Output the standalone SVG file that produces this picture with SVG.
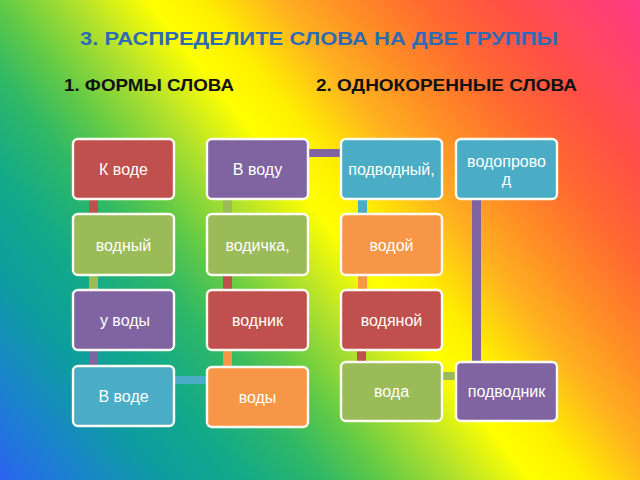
<svg xmlns="http://www.w3.org/2000/svg" width="640" height="480" viewBox="0 0 640 480">
<defs>
<linearGradient id="bg" gradientUnits="userSpaceOnUse" x1="0" y1="480" x2="624.4" y2="-19.5">
<stop offset="0" stop-color="#2a64f0"/>
<stop offset="0.08" stop-color="#1a84cc"/>
<stop offset="0.16" stop-color="#0d9ca0"/>
<stop offset="0.24" stop-color="#12aa88"/>
<stop offset="0.316" stop-color="#30b866"/>
<stop offset="0.375" stop-color="#62ca46"/>
<stop offset="0.45" stop-color="#b4e22c"/>
<stop offset="0.52" stop-color="#ffff00"/>
<stop offset="0.57" stop-color="#fff000"/>
<stop offset="0.648" stop-color="#ffb020"/>
<stop offset="0.707" stop-color="#ff9025"/>
<stop offset="0.785" stop-color="#ff6a30"/>
<stop offset="0.863" stop-color="#ff5046"/>
<stop offset="1" stop-color="#ff3a86"/>
</linearGradient>
<style>
.box{stroke:#fbfbf3;stroke-width:2.4}
.red{fill:#c0504d}.olive{fill:#9bbb59}.purple{fill:#8064a2}.teal{fill:#4bacc6}.orange{fill:#f79646}
.lbl{font-family:"Liberation Sans",Arial,sans-serif;font-size:16px;fill:#ffffff;text-anchor:middle}
.title{font-family:"Liberation Sans",Arial,sans-serif;font-weight:bold;font-size:19px;fill:#2f6bb3}
.sub{font-family:"Liberation Sans",Arial,sans-serif;font-weight:bold;font-size:17px;fill:#111111}
</style>
</defs>
<rect x="0" y="0" width="640" height="480" fill="url(#bg)"/>
<text class="title" x="80" y="45" textLength="478" lengthAdjust="spacingAndGlyphs">3. РАСПРЕДЕЛИТЕ СЛОВА НА ДВЕ ГРУППЫ</text>
<text class="sub" x="64" y="91" textLength="170" lengthAdjust="spacingAndGlyphs">1. ФОРМЫ СЛОВА</text>
<text class="sub" x="316" y="91" textLength="261" lengthAdjust="spacingAndGlyphs">2. ОДНОКОРЕННЫЕ СЛОВА</text>
<g id="connectors">
<rect class="red" x="89" y="199" width="9" height="15"/>
<rect class="olive" x="89" y="275" width="9" height="15"/>
<rect class="purple" x="89" y="350" width="9" height="16"/>
<rect class="teal" x="174" y="376" width="33" height="8"/>
<rect class="orange" x="223" y="350" width="9" height="17"/>
<rect class="red" x="223" y="275" width="9" height="15"/>
<rect class="olive" x="223" y="199" width="9" height="15"/>
<rect class="purple" x="308" y="149" width="33" height="8"/>
<rect class="teal" x="358" y="199" width="9" height="15"/>
<rect class="orange" x="358" y="275" width="9" height="15"/>
<rect class="red" x="357" y="350" width="9" height="12"/>
<rect class="olive" x="442" y="372" width="14" height="8"/>
<rect class="purple" x="472" y="199" width="9" height="163"/>
</g>
<g id="n1"><rect class="box red" x="73" y="139" width="101" height="60" rx="5"/><text class="lbl" x="123.5" y="175">К воде</text></g>
<g id="n2"><rect class="box olive" x="73" y="214" width="101" height="61" rx="5"/><text class="lbl" x="123.5" y="251">водный</text></g>
<g id="n3"><rect class="box purple" x="73" y="290" width="101" height="60" rx="5"/><text class="lbl" x="125" y="326">у воды</text></g>
<g id="n4"><rect class="box teal" x="73" y="366" width="101" height="60" rx="5"/><text class="lbl" x="123.5" y="402">В воде</text></g>
<g id="n5"><rect class="box purple" x="207" y="139" width="101" height="60" rx="5"/><text class="lbl" x="257.5" y="175">В воду</text></g>
<g id="n6"><rect class="box olive" x="207" y="214" width="101" height="61" rx="5"/><text class="lbl" x="257.5" y="251">водичка,</text></g>
<g id="n7"><rect class="box red" x="207" y="290" width="101" height="60" rx="5"/><text class="lbl" x="257.5" y="326">водник</text></g>
<g id="n8"><rect class="box orange" x="207" y="367" width="101" height="60" rx="5"/><text class="lbl" x="257.5" y="403">воды</text></g>
<g id="n9"><rect class="box teal" x="341" y="139" width="101" height="60" rx="5"/><text class="lbl" x="391.5" y="175">подводный,</text></g>
<g id="n10"><rect class="box orange" x="341" y="214" width="101" height="61" rx="5"/><text class="lbl" x="391.5" y="251">водой</text></g>
<g id="n11"><rect class="box red" x="341" y="290" width="101" height="60" rx="5"/><text class="lbl" x="391.5" y="326">водяной</text></g>
<g id="n12"><rect class="box olive" x="341" y="362" width="101" height="59" rx="5"/><text class="lbl" x="391.5" y="397">вода</text></g>
<g id="n13"><rect class="box teal" x="456" y="139" width="101" height="60" rx="5"/><text class="lbl" x="506.5" y="167">водопрово</text><text class="lbl" x="506.5" y="185">д</text></g>
<g id="n14"><rect class="box purple" x="456" y="362" width="101" height="59" rx="5"/><text class="lbl" x="506.5" y="397">подводник</text></g>
</svg>
